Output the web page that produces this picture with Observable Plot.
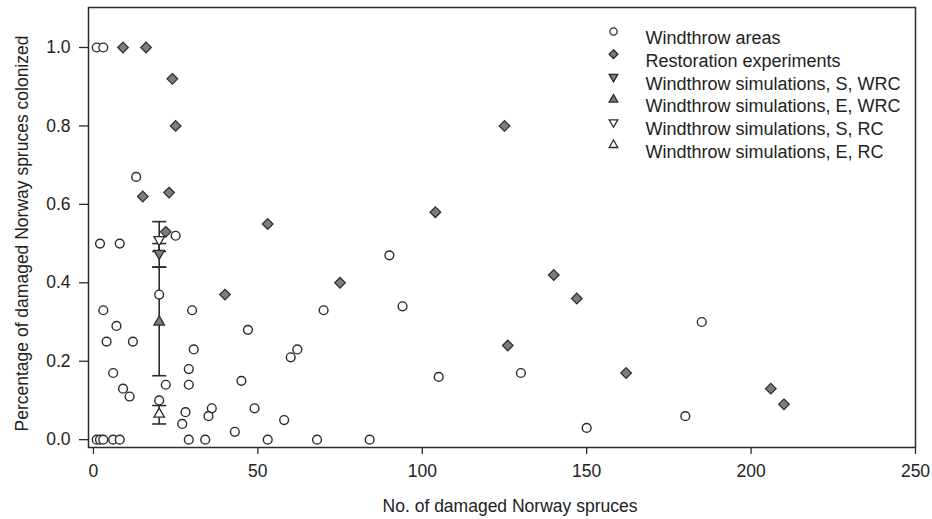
<!DOCTYPE html>
<html><head><meta charset="utf-8">
<script src="https://cdn.jsdelivr.net/npm/d3@7"></script>
<script src="https://cdn.jsdelivr.net/npm/@observablehq/plot@0.6"></script>
<style>
body{margin:0;background:#fff;}
#chart svg{font-family:"Liberation Sans", Arial, sans-serif;}
</style>
</head><body><div id="chart"></div>
<script>
// Windthrow areas (open circles)
const windX = [1, 3, 13, 2, 8, 25, 20, 3, 30, 7, 4, 12, 30.5, 6, 9, 11, 22, 29, 29, 20, 28, 27, 36, 35, 43, 49, 45, 47, 90, 94, 70, 62, 60, 105, 130, 58, 150, 180, 185, 1, 2, 3, 6, 8, 29, 34, 53, 68, 84];
const windY = [1.0, 1.0, 0.67, 0.50, 0.50, 0.52, 0.37, 0.33, 0.33, 0.29, 0.25, 0.25, 0.23, 0.17, 0.13, 0.11, 0.14, 0.18, 0.14, 0.10, 0.07, 0.04, 0.08, 0.06, 0.02, 0.08, 0.15, 0.28, 0.47, 0.34, 0.33, 0.23, 0.21, 0.16, 0.17, 0.05, 0.03, 0.06, 0.30, 0, 0, 0, 0, 0, 0, 0, 0, 0, 0];
// Restoration experiments (grey diamonds)
const restX = [9, 16, 24, 25, 15, 23, 22, 40, 53, 75, 104, 125, 140, 126, 147, 162, 206, 210];
const restY = [1.0, 1.0, 0.92, 0.80, 0.62, 0.63, 0.53, 0.37, 0.55, 0.40, 0.58, 0.80, 0.42, 0.24, 0.36, 0.17, 0.13, 0.09];
// Windthrow simulations: S WRC, E WRC, S RC, E RC
const simNames = ["S, WRC", "E, WRC", "S, RC", "E, RC"];
const simX = [20, 20, 20, 20];
const simY = [0.475, 0.30, 0.51, 0.065];
const simLo = [0.44, 0.163, 0.48, 0.04];
const simHi = [0.50, 0.44, 0.556, 0.087];

const xTicks = [0, 50, 100, 150, 200, 250];
const yTicks = [0, 0.2, 0.4, 0.6, 0.8, 1.0];
const legendLabels = ["Windthrow areas", "Restoration experiments", "Windthrow simulations, S, WRC", "Windthrow simulations, E, WRC", "Windthrow simulations, S, RC", "Windthrow simulations, E, RC"];

const wind = windX.map((x, i) => ({x, y: windY[i]}));
const rest = restX.map((x, i) => ({x, y: restY[i]}));
const sims = simNames.map((n, i) => ({name: n, x: simX[i], y: simY[i], lo: simLo[i], hi: simHi[i]}));

const S3 = Math.sqrt(3);
const triDown = {draw(ctx, size) { const y = Math.sqrt(size / (S3 * 3)); ctx.moveTo(0, 2 * y); ctx.lineTo(S3 * y, -y); ctx.lineTo(-S3 * y, -y); ctx.closePath(); }};
const capSym = {draw(ctx) { ctx.moveTo(-7, 0); ctx.lineTo(7, 0); }};

const ink = "#2b2b2b";
const grey = "#7d7d7d";
const styles = [
  {symbol: "circle", fill: "white", r: 4.4},
  {symbol: "diamond2", fill: grey, r: 4.8},
  {symbol: triDown, fill: grey, r: 3.9},
  {symbol: "triangle", fill: grey, r: 3.9},
  {symbol: triDown, fill: "white", r: 3.9},
  {symbol: "triangle", fill: "white", r: 3.9}
];
const simStyle = {"S, WRC": styles[2], "E, WRC": styles[3], "S, RC": styles[4], "E, RC": styles[5]};

const legendMarks = legendLabels.flatMap((lab, i) => [
  Plot.dot([lab], {frameAnchor: "top-left", dx: 525, dy: 24 + i * 22.7, symbol: styles[i].symbol, fill: styles[i].fill, stroke: ink, strokeWidth: 1.3, r: styles[i].r * 0.82}),
  Plot.text([lab], {frameAnchor: "top-left", dx: 557, dy: 24 + i * 22.7, text: d => d, textAnchor: "start", fontSize: 18, fill: "#222"})
]);

const chart = Plot.plot({
  width: 932, height: 519,
  marginTop: 7, marginBottom: 72, marginLeft: 88, marginRight: 17,
  style: {fontSize: "17px", fontFamily: "Liberation Sans, Arial, sans-serif", color: "#222", background: "white"},
  x: {domain: [-1.5, 250]},
  y: {domain: [-0.02, 1.102]},
  marks: [
    Plot.axisX({ticks: xTicks, tickSize: 7, tickPadding: 10, fontSize: 17.5, label: null, stroke: ink, strokeWidth: 1.3}),
    Plot.axisY({ticks: yTicks, tickFormat: d3.format(".1f"), tickSize: 9, tickPadding: 9, fontSize: 17.5, label: null, stroke: ink, strokeWidth: 1.3}),
    Plot.text(["No. of damaged Norway spruces"], {frameAnchor: "bottom", textAnchor: "middle", dy: 64, dx: 8, text: d => d, fontSize: 17.5, fill: "#222"}),
    Plot.text(["Percentage of damaged Norway spruces colonized"], {frameAnchor: "left", textAnchor: "middle", dx: -66, dy: 6, rotate: -90, text: d => d, fontSize: 17.5, fill: "#222"}),
    Plot.ruleX(sims, {x: "x", y1: "lo", y2: "hi", stroke: ink, strokeWidth: 1.6}),
    Plot.dot(sims, {x: "x", y: "lo", symbol: capSym, fill: "none", stroke: ink, strokeWidth: 1.6}),
    Plot.dot(sims, {x: "x", y: "hi", symbol: capSym, fill: "none", stroke: ink, strokeWidth: 1.6}),
    Plot.dot(wind, {x: "x", y: "y", symbol: "circle", r: 4.4, fill: "white", stroke: ink, strokeWidth: 1.4}),
    Plot.dot(rest, {x: "x", y: "y", symbol: "diamond2", r: 4.8, fill: grey, stroke: ink, strokeWidth: 1.2}),
    ...sims.map(s => Plot.dot([s], {x: "x", y: "y", symbol: simStyle[s.name].symbol, r: simStyle[s.name].r, fill: simStyle[s.name].fill, stroke: ink, strokeWidth: 1.3})),
    Plot.frame({stroke: ink, strokeWidth: 1.5}),
    ...legendMarks
  ]
});
document.getElementById("chart").appendChild(chart);
</script>
</body></html>
